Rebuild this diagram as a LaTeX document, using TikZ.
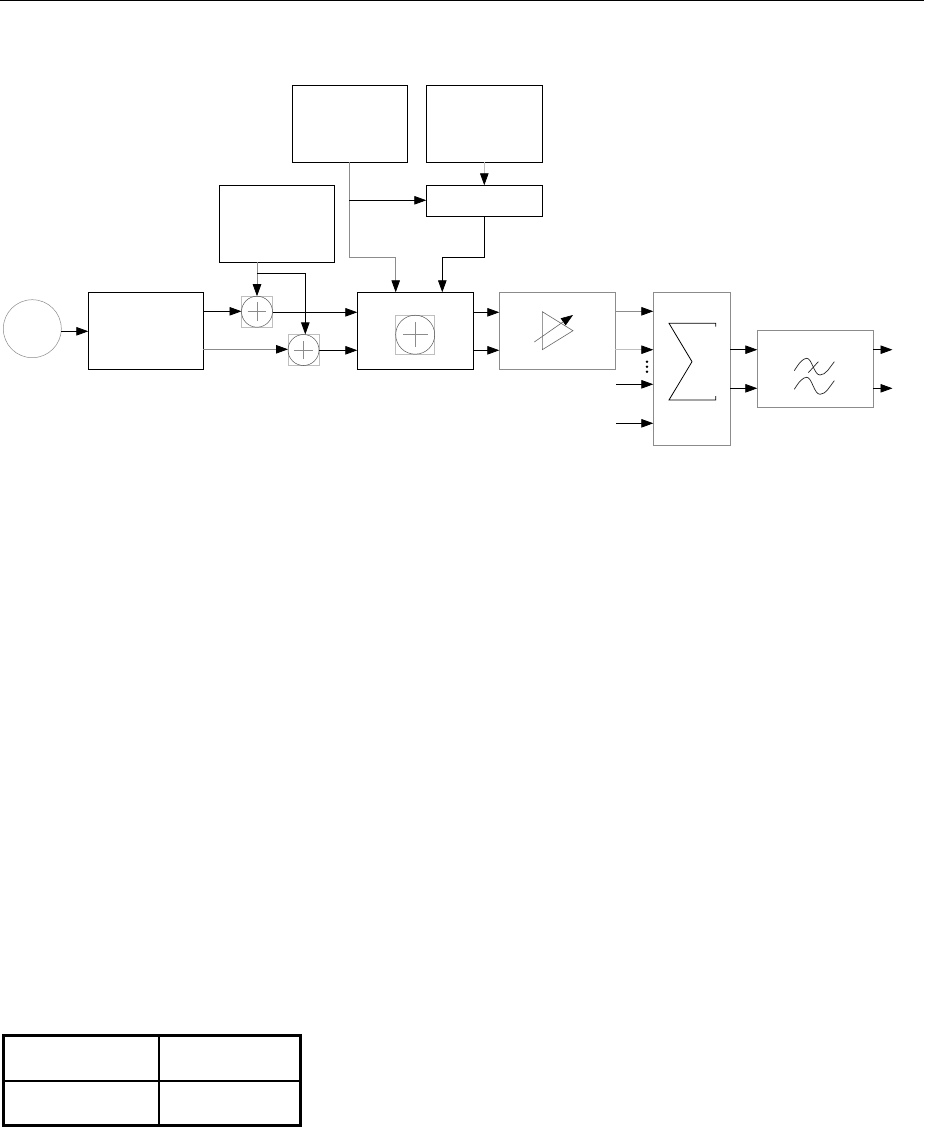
\documentclass[tikz,border=0pt]{standalone}
\usetikzlibrary{arrows.meta}
\definecolor{soft}{gray}{0.55}
\definecolor{pale}{gray}{0.75}
\tikzset{
  x=1pt,y=-1pt,
  blk/.style={draw=black,line width=0.9pt,fill=white,inner sep=0pt,outer sep=0pt,rectangle},
  gbox/.style={draw=soft,line width=0.8pt,fill=white,inner sep=0pt,outer sep=0pt,rectangle},
  sq/.style={draw=pale,line width=0.6pt,fill=white,inner sep=0pt,outer sep=0pt,rectangle,minimum size=#1},
  ring/.style={draw=black!65,line width=0.5pt,fill=none,inner sep=0pt,outer sep=0pt,circle,minimum size=#1},
  wire/.style={draw=black,line width=0.8pt},
  arr/.style={wire,-{Triangle[length=12pt,width=8.5pt]}},
  garr/.style={draw=soft,line width=0.8pt,-{Triangle[length=12pt,width=8.5pt,color=black,fill=black]}},
  thin line/.style={draw=soft,line width=0.5pt},
  ink/.style={draw=black,line width=0.8pt,line join=miter},
  rule/.style={draw=black,line width=#1},
}
\newcommand{\boxat}[6]{\node[#2,minimum width=#5-#3,minimum height=#6-#4] (#1) at ({(#3+#5)/2},{(#4+#6)/2}) {};}
\newcommand{\adder}[5]{%
  \node[sq=#5] (#1s) at (#3,#4) {};
  \node[ring=#5] (#1) at (#3,#4) {};
  \draw[thin line] ([xshift=-#2]#1.center) -- ([xshift=#2]#1.center);
  \draw[thin line] ([yshift=-#2]#1.center) -- ([yshift=#2]#1.center);}
\begin{document}
\begin{tikzpicture}
\useasboundingbox (0,0) rectangle (924,1127);
\fill[white] (0,0) rectangle (924,1127);
\coordinate (ruleL) at (0,0.5);
\coordinate (ruleR) at (924,0.5);
\draw[rule=1.1pt] (ruleL) -- (ruleR);

% boxes
\boxat{A}{blk}{292.3}{85.3}{407.8}{162.3}
\boxat{B}{blk}{426.3}{85.3}{542.3}{162.3}
\boxat{C}{blk}{426.3}{185.3}{542.3}{216.3}
\boxat{D}{blk}{219.3}{185.3}{334.3}{262.3}
\boxat{E}{blk}{88.3}{292.3}{203.3}{369.3}
\boxat{F}{blk}{357.3}{292.3}{473.3}{369.3}
\boxat{G}{gbox}{499.3}{292.3}{615.3}{369.3}
\boxat{H}{gbox}{653.3}{292.3}{730.3}{445.7}
\boxat{I}{gbox}{757.3}{330.7}{873.3}{407.3}
\node[ring=58pt,draw=soft] (src) at (32.3,328.7) {};

% adders
\adder{addA}{9.3pt}{257}{311.7}{31pt}
\adder{addB}{9.3pt}{303.5}{350}{31pt}
\adder{addC}{12.3pt}{415.2}{334.7}{39pt}

% connectors
\draw[arr] (61.2,331.3) -- (E.west |- 0,331.3);
\draw[arr] (E.east |- 0,311.3) -- (addA.west |- 0,311.3);
\draw[garr] (E.east |- 0,349.3) -- (addB.west |- 0,349.3);
\draw[arr] (addA.east |- 0,312.3) -- (F.west |- 0,312.3);
\draw[arr] (addB.east |- 0,350.3) -- (F.west |- 0,350.3);

\coordinate (dj) at (257,273.3);
\draw[garr] (D.south -| dj) -- (addA.north);
\draw[arr] (dj) -- (305.3,273.3) -- (305.3,334.4);

\coordinate (aj) at (349.3,200.3);
\draw[garr] (A.south -| aj) -- (349.3,257.7) -- (395.7,257.7) -- (F.north -| 395.7,0);
\draw[arr] (aj) -- (C.west |- aj);
\draw[garr,draw=pale] (B.south) -- (C.north);
\draw[arr] (C.south) -- (484.3,257.7) -- (442.3,257.7) -- (F.north -| 442.3,0);

\draw[arr] (F.east |- 0,312.3) -- (G.west |- 0,312.3);
\draw[arr] (F.east |- 0,350.3) -- (G.west |- 0,350.3);
\draw[garr] (G.east |- 0,311.3) -- (H.west |- 0,311.3);
\draw[garr,draw=pale] (G.east |- 0,349.7) -- (H.west |- 0,349.7);
\coordinate (f1) at (616,384.3);
\coordinate (f2) at (616,423.3);
\draw[arr] (f1) -- (H.west |- f1);
\draw[arr] (f2) -- (H.west |- f2);
\draw[arr] (H.east |- 0,349.7) -- (I.west |- 0,349.7);
\draw[arr] (H.east |- 0,388.3) -- (I.west |- 0,388.3);
\coordinate (o1) at (892.5,349.7);
\coordinate (o2) at (892.5,388.3);
\draw[arr] (I.east |- o1) -- (o1);
\draw[arr] (I.east |- o2) -- (o2);

% amplifier symbol
\draw[draw=black!60,line width=0.6pt] (542.3,311.7) -- (542.3,349.7) -- (573,330.7) -- cycle;
\draw[draw=black!60,line width=0.6pt,-{Triangle[length=12pt,width=8.5pt,color=black,fill=black]}] (534.3,342) -- (573,315);

% dots
\fill (647,361.7) circle (1.4pt) (647,366.7) circle (1.4pt) (647,371.7) circle (1.4pt);

% sigma
\draw[ink] (715.7,326.7) -- (715.7,323.3) -- (669,323.3) -- (692,361.7) -- (669,400) -- (715.7,400) -- (715.7,396);

% filter symbol
\draw[draw=black!85,line width=0.7pt] (794.3,370.7) .. controls (799,363) and (803,358.3) .. (806.7,358.3)
  .. controls (812,358.3) and (814,375) .. (820,375) .. controls (826,375) and (830,367) .. (834.3,361.7);
\draw[draw=black!85,line width=0.7pt] (794.3,389.3) .. controls (799,381.5) and (803,377.3) .. (806.7,377.3)
  .. controls (812,377.3) and (814,394.3) .. (820,394.3) .. controls (826,394.3) and (830,386) .. (834.3,380.7);
\draw[draw=black!85,line width=0.7pt] (808.3,372.7) -- (818.3,361.7);

% table
\draw[draw=black,line width=2.7pt] (3.6,1035.8) rectangle (300.6,1125.3);
\draw[draw=black,line width=1.7pt] (159,1035.8) -- (159,1125.3);
\draw[draw=black,line width=1.7pt] (3.6,1081) -- (300.6,1081);
\end{tikzpicture}
\end{document}
